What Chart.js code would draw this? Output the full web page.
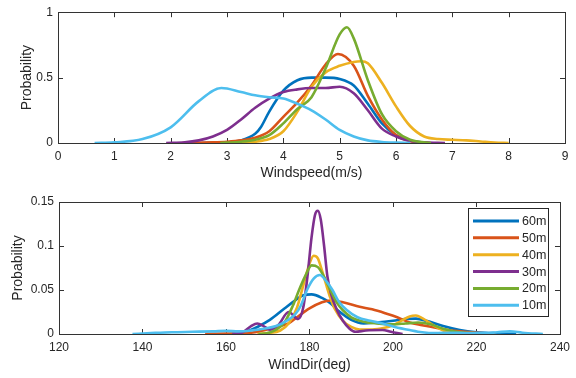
<!DOCTYPE html>
<html>
<head>
<meta charset="utf-8">
<script src="https://cdn.jsdelivr.net/npm/chart.js@4"></script>
<style>
  html, body { margin:0; padding:0; background:#fff; }
  #wrap { position:relative; width:576px; height:378px; }
  canvas { position:absolute; left:0; }
  #top { top:0; }
  #bot { top:189px; }
</style>
</head>
<body>
<div id="wrap">
  <canvas id="top" width="576" height="189"></canvas>
  <canvas id="bot" width="576" height="189"></canvas>
</div>
<script>
// ---------------------------
// DATA
// ---------------------------
const heights = ["60m","50m","40m","30m","20m","10m"];
const colors  = ["#0072BD","#D95319","#EDB120","#7E2F8E","#77AC30","#4DBEEE"];

// windspeed (m/s) -> probability
const ws60x = [2.55,3.0,3.25,3.5,3.6,3.75,4.0,4.25,4.5,4.75,5.0,5.25,5.5,5.75,6.0,6.25,6.55];
const ws60y = [0,0.005,0.02,0.07,0.12,0.24,0.40,0.48,0.50,0.50,0.49,0.44,0.30,0.15,0.06,0.02,0];
const ws50x = [2.2,2.75,3.0,3.25,3.5,3.75,4.0,4.25,4.5,4.75,4.97,5.25,5.5,5.75,6.0,6.25,6.6];
const ws50y = [0,0.005,0.01,0.02,0.04,0.09,0.2,0.31,0.44,0.6,0.68,0.59,0.36,0.18,0.06,0.015,0];
const ws40x = [3.1,3.5,3.75,4.0,4.25,4.5,4.75,5.0,5.25,5.38,5.5,5.75,6.0,6.25,6.5,6.75,7.0,7.25,7.5,7.75,8.0];
const ws40y = [0,0.01,0.03,0.09,0.24,0.43,0.54,0.59,0.62,0.625,0.61,0.46,0.28,0.13,0.05,0.03,0.025,0.02,0.012,0.004,0];
const ws30x = [1.92,2.25,2.5,2.75,3.0,3.25,3.5,3.75,4.0,4.25,4.5,4.75,5.0,5.25,5.5,5.75,6.0,6.25,6.5,6.87];
const ws30y = [0,0.005,0.02,0.05,0.1,0.18,0.27,0.34,0.39,0.41,0.42,0.42,0.43,0.38,0.25,0.11,0.05,0.015,0.005,0];
const ws20x = [2.88,3.25,3.5,3.75,4.0,4.25,4.5,4.75,5.0,5.13,5.25,5.5,5.75,6.0,6.25,6.62];
const ws20y = [0,0.01,0.025,0.06,0.15,0.26,0.35,0.57,0.83,0.885,0.8,0.48,0.22,0.09,0.025,0];
const ws10x = [0.65,1.0,1.5,2.0,2.5,2.9,3.25,3.5,3.75,4.0,4.25,4.5,4.75,5.0,5.25,5.5,5.75,6.0,6.25];
const ws10y = [0,0.005,0.03,0.12,0.32,0.42,0.39,0.365,0.35,0.34,0.3,0.25,0.18,0.1,0.05,0.02,0.008,0.003,0];

// wind direction (deg) -> probability
const wd60x = [161,165,167.5,170.5,174,176.5,178.5,180.5,183,185,187,190,193,196,200,203,205.5,208,212,216,220,224,229.5];
const wd60y = [0,0.003,0.008,0.016,0.029,0.038,0.044,0.045,0.041,0.035,0.026,0.016,0.012,0.013,0.015,0.017,0.0175,0.015,0.009,0.0045,0.002,0.001,0];
const wd50x = [155,160,165,168,172,175,177,180,183,185,188,192,195,198.5,201,204,207,212,216,220,224.5];
const wd50y = [0,0.0005,0.001,0.003,0.008,0.012,0.019,0.029,0.036,0.038,0.036,0.031,0.028,0.023,0.019,0.013,0.01,0.0055,0.003,0.0015,0];
const wd40x = [167.5,170,173,175,177,178.5,180,181,182,183,184,185,186,188,190,192,195,198,200,202,204,205.5,207,210,213,214.5];
const wd40y = [0,0.001,0.004,0.012,0.03,0.055,0.08,0.089,0.086,0.072,0.056,0.041,0.029,0.015,0.008,0.005,0.005,0.007,0.01,0.015,0.02,0.021,0.018,0.009,0.002,0];
const wd30x = [161.5,164,166,167.5,169,170.5,172.5,175,177.3,178.5,179.5,180.5,181.3,182,182.7,183.5,184.3,185.2,186.5,188,189.6,191,193.5,197.5,199.5,202.3];
const wd30y = [0,0.002,0.009,0.012,0.009,0.005,0.01,0.025,0.017,0.03,0.065,0.11,0.135,0.14,0.13,0.1,0.065,0.045,0.028,0.015,0.006,0.0025,0.004,0.0045,0.0025,0];
const wd20x = [167.8,170,172,174,176,177.5,179,180.5,182,183.5,185,186.5,188,190,193,196,200,203,206,209,212,216,220,224];
const wd20y = [0,0.001,0.005,0.013,0.032,0.05,0.066,0.078,0.076,0.065,0.05,0.036,0.027,0.019,0.014,0.012,0.011,0.012,0.013,0.011,0.006,0.002,0.0008,0];
const wd10x = [137.6,142,147,152,157,160,163,166,169,172,174.5,176.5,178,179.4,181,182.5,184,185.5,187,189,191.5,194.5,197.5,200.5,204,207,210,214,218,222,225,228,231,235.9];
const wd10y = [0,0.001,0.002,0.0025,0.003,0.0035,0.003,0.004,0.006,0.009,0.015,0.022,0.033,0.05,0.063,0.067,0.06,0.05,0.037,0.027,0.019,0.015,0.012,0.008,0.0045,0.002,0.001,0.0015,0.001,0.001,0.002,0.003,0.0015,0];

const wsTicksX = [0,1,2,3,4,5,6,7,8,9];
const wsTicksY = [0,0.5,1];
const wdTicksX = [120,140,160,180,200,220,240];
const wdTicksY = [0,0.05,0.1,0.15];

// ---------------------------
// HELPERS
// ---------------------------
Chart.defaults.font.family = "'Liberation Sans', Arial, sans-serif";
Chart.defaults.font.size = 12;
Chart.defaults.color = "#262626";

const pts = (xs, ys) => xs.map((x,i)=>({x, y:ys[i]}));

function makeSets(pairs){
  return pairs.map(([xs,ys],i)=>({
    label: heights[i],
    data: pts(xs,ys),
    borderColor: colors[i],
    backgroundColor: colors[i],
    borderWidth: 2.6,
    pointRadius: 0,
    fill: false,
    cubicInterpolationMode: "monotone",
    order: pairs.length - i
  }));
}

// axes box + inward ticks, MATLAB style
const boxTicks = {
  id: "boxTicks",
  beforeDatasetsDraw(chart){
    const {ctx, chartArea:a, scales:{x,y}} = chart;
    const len = 5;
    ctx.save();
    ctx.strokeStyle = "#333";
    ctx.lineWidth = 1;
    ctx.strokeRect(Math.round(a.left)+0.5, Math.round(a.top)+0.5,
                   Math.round(a.right-a.left), Math.round(a.bottom-a.top));
    ctx.beginPath();
    x.ticks.forEach(t=>{
      const px = Math.round(x.getPixelForValue(t.value))+0.5;
      ctx.moveTo(px, a.bottom); ctx.lineTo(px, a.bottom-len);
      ctx.moveTo(px, a.top); ctx.lineTo(px, a.top+len);
    });
    y.ticks.forEach(t=>{
      const py = Math.round(y.getPixelForValue(t.value))+0.5;
      ctx.moveTo(a.left, py); ctx.lineTo(a.left+len, py);
      ctx.moveTo(a.right, py); ctx.lineTo(a.right-len, py);
    });
    ctx.stroke();
    ctx.restore();
  }
};

// boxed legend inside the axes
const boxLegend = {
  id: "boxLegend",
  afterDatasetsDraw(chart, args, o){
    const ctx = chart.ctx;
    const sets = chart.data.datasets;
    ctx.save();
    ctx.fillStyle = "#fff";
    ctx.fillRect(o.x, o.y, o.w, o.h);
    ctx.strokeStyle = "#262626";
    ctx.lineWidth = 1;
    ctx.strokeRect(o.x+0.5, o.y+0.5, o.w, o.h);
    ctx.font = "12.5px 'Liberation Sans', Arial, sans-serif";
    ctx.textBaseline = "middle";
    sets.forEach((d,i)=>{
      const cy = o.y + o.first + i*o.step;
      ctx.strokeStyle = d.borderColor;
      ctx.lineWidth = 3;
      ctx.beginPath();
      ctx.moveTo(o.x+5, cy); ctx.lineTo(o.x+51, cy);
      ctx.stroke();
      ctx.fillStyle = "#262626";
      ctx.fillText(d.label, o.x+54, cy+0.5);
    });
    ctx.restore();
  }
};

function axes(xmin,xmax,xticks,ymin,ymax,yticks,xtitle,yw,xh,ytitlePad,xtitlePad){
  const fmt = v => String(Number(v.toFixed(3)));
  return {
    x: {
      type:"linear", min:xmin, max:xmax,
      afterBuildTicks: s => { s.ticks = xticks.map(v=>({value:v})); },
      ticks:{ padding:6, maxRotation:0, autoSkip:false, callback: fmt },
      grid:{ display:false, drawTicks:false },
      border:{ display:false },
      title:{ display:true, text:xtitle, font:{size:14}, padding:{top:0,bottom:xtitlePad} },
      afterFit: s => { s.height = xh; }
    },
    y: {
      min:ymin, max:ymax,
      afterBuildTicks: s => { s.ticks = yticks.map(v=>({value:v})); },
      ticks:{ padding:5, autoSkip:false, callback: fmt },
      grid:{ display:false, drawTicks:false },
      border:{ display:false },
      title:{ display:true, text:"Probability", font:{size:14}, padding:{top:ytitlePad,bottom:0} },
      afterFit: s => { s.width = yw; }
    }
  };
}

// ---------------------------
// CHARTS
// ---------------------------
new Chart(document.getElementById("top"), {
  type:"line",
  data:{ datasets: makeSets([[ws60x,ws60y],[ws50x,ws50y],[ws40x,ws40y],[ws30x,ws30y],[ws20x,ws20y],[ws10x,ws10y]]) },
  options:{
    responsive:false, animation:false,
    layout:{ padding:{ top:11, right:11, left:0, bottom:0 } },
    plugins:{ legend:{display:false}, tooltip:{enabled:false} },
    scales: axes(0,9,wsTicksX,0,1,wsTicksY,"Windspeed(m/s)",58,46,19,7)
  },
  plugins:[boxTicks]
});

new Chart(document.getElementById("bot"), {
  type:"line",
  data:{ datasets: makeSets([[wd60x,wd60y],[wd50x,wd50y],[wd40x,wd40y],[wd30x,wd30y],[wd20x,wd20y],[wd10x,wd10y]]) },
  options:{
    responsive:false, animation:false,
    layout:{ padding:{ top:13, right:10, left:0, bottom:0 } },
    plugins:{
      legend:{display:false}, tooltip:{enabled:false},
      boxLegend:{ x:468, y:19, w:80, h:108, first:13, step:16.85 }
    },
    scales: axes(120,240,wdTicksX,0,0.15,wdTicksY,"WindDir(deg)",59,44,10,4)
  },
  plugins:[boxTicks, boxLegend]
});
</script>
</body>
</html>
